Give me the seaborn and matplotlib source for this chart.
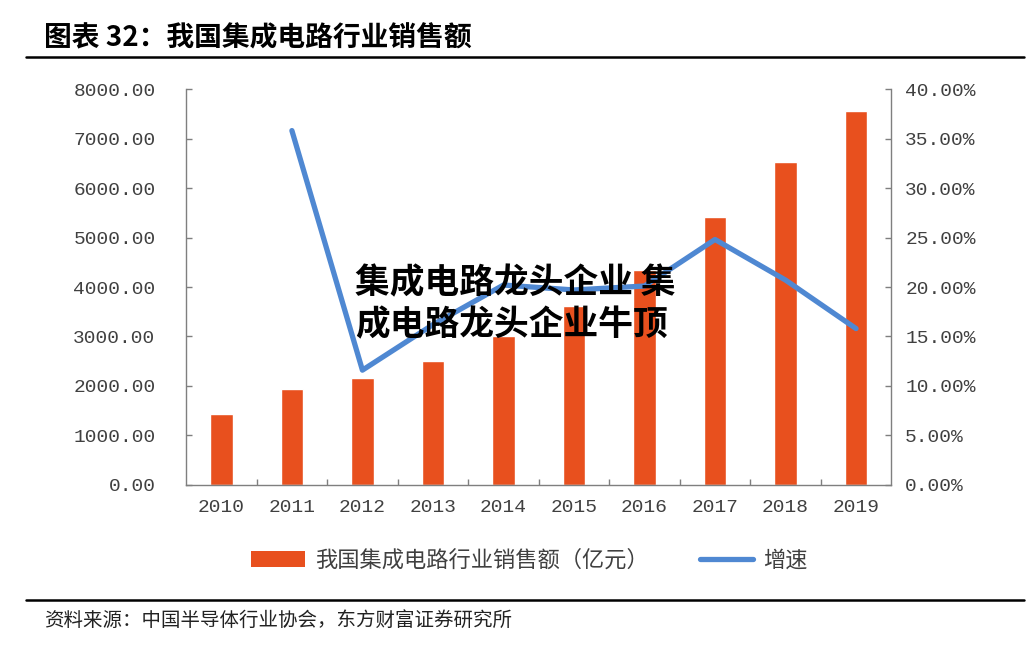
import numpy as np
import pandas as pd
import matplotlib
matplotlib.use("Agg")
import matplotlib.pyplot as plt
from matplotlib.patches import Patch
from matplotlib.lines import Line2D
from matplotlib.ticker import FuncFormatter, FixedLocator
import seaborn as sns

years = ["2010", "2011", "2012", "2013", "2014", "2015", "2016", "2017", "2018", "2019"]
sales = [1424, 1933, 2158, 2508, 3015, 3609, 4335, 5411, 6532, 7562]
growth = [np.nan, 35.8, 11.6, 16.2, 20.2, 19.7, 20.1, 24.8, 20.7, 15.8]
bar_label = "我国集成电路行业销售额（亿元）"
line_label = "增速"
title = "图表 32：我国集成电路行业销售额"
source = "资料来源：中国半导体行业协会，东方财富证券研究所"
watermark = "集成电路龙头企业 集\n成电路龙头企业牛顶"

sns.set_theme(style="white")
plt.rcParams['font.family'] = ['Noto Sans CJK SC', 'DejaVu Sans']

bar_color = "#E8501E"
line_color = "#4F88D2"
txt_color = "#404040"
mono = ['Liberation Mono', 'DejaVu Sans Mono']

df = pd.DataFrame({"year": years, "sales": sales, "growth": growth})

fig = plt.figure(figsize=(10.34, 6.56), dpi=100)
ax = fig.add_axes([0.18, 0.2607, 0.682, 0.6036])
sns.barplot(data=df, x="year", y="sales", color=bar_color, width=0.32,
            saturation=1, ax=ax)
ax.set_xlim(-0.5, len(years) - 0.5)
ax.set_ylim(0, 8000)
ax.set_yticks(np.arange(0, 8001, 1000))
ax.yaxis.set_major_formatter(FuncFormatter(lambda v, p: f"{v:.2f}"))
ax.set_xlabel("")
ax.set_ylabel("")

ax2 = ax.twinx()
sns.lineplot(x=np.arange(len(years)), y=df["growth"], color=line_color,
             linewidth=3.8, ax=ax2)
ax2.set_ylim(0, 40)
ax2.set_yticks(np.arange(0, 40.1, 5))
ax2.yaxis.set_major_formatter(FuncFormatter(lambda v, p: f"{v:.2f}%"))
ax2.set_ylabel("")
ax2.set_xlim(-0.5, len(years) - 0.5)

for a in (ax, ax2):
    a.spines["top"].set_visible(False)
    for s in ("left", "right", "bottom"):
        a.spines[s].set_color("#7f7f7f")
        a.spines[s].set_linewidth(1.0)
ax.spines["right"].set_visible(False)
ax2.spines["left"].set_visible(False)
ax2.spines["bottom"].set_visible(False)

ax.tick_params(axis="y", labelsize=14, colors=txt_color, length=4, width=1,
               direction="in", pad=22, color="#7f7f7f")
ax2.tick_params(axis="y", labelsize=14, colors=txt_color, length=4, width=1,
                direction="in", pad=10, color="#7f7f7f")
ax.tick_params(axis="x", labelsize=14, colors=txt_color, length=0, pad=10)
ax.xaxis.set_minor_locator(FixedLocator(np.arange(0.5, len(years) - 1, 1)))
ax.tick_params(axis="x", which="minor", length=4, width=1, direction="in",
               color="#7f7f7f", bottom=True)
for lbl in ax.get_yticklabels() + ax2.get_yticklabels() + ax.get_xticklabels():
    lbl.set_family(mono)

# legend
handles = [Patch(facecolor=bar_color, edgecolor="none", label=bar_label),
           Line2D([0], [0], color=line_color, linewidth=3.8, label=line_label)]
leg = fig.legend(handles=handles, loc="center", bbox_to_anchor=(0.512, 0.146),
                 ncol=2, frameon=False, fontsize=16, columnspacing=2.3,
                 handlelength=2.4, handleheight=0.75, handletextpad=0.45)
for t in leg.get_texts():
    t.set_color(txt_color)

# title, rules, source
fig.text(0.043, 0.942, title, fontsize=20, fontweight="heavy", color="black",
         va="center", ha="left")
fig.add_artist(Line2D([0.025, 0.99], [0.913, 0.913], color="black", linewidth=1.8))
fig.add_artist(Line2D([0.025, 0.99], [0.086, 0.086], color="black", linewidth=1.8))
fig.text(0.043, 0.054, source, fontsize=14, color="#222222", va="center", ha="left")

# watermark overlay
fig.text(0.343, 0.537, watermark, fontsize=25, fontweight="heavy", color="black",
         va="center", ha="left", linespacing=1.25)

fig.savefig("out.png", dpi=100, facecolor="white")
